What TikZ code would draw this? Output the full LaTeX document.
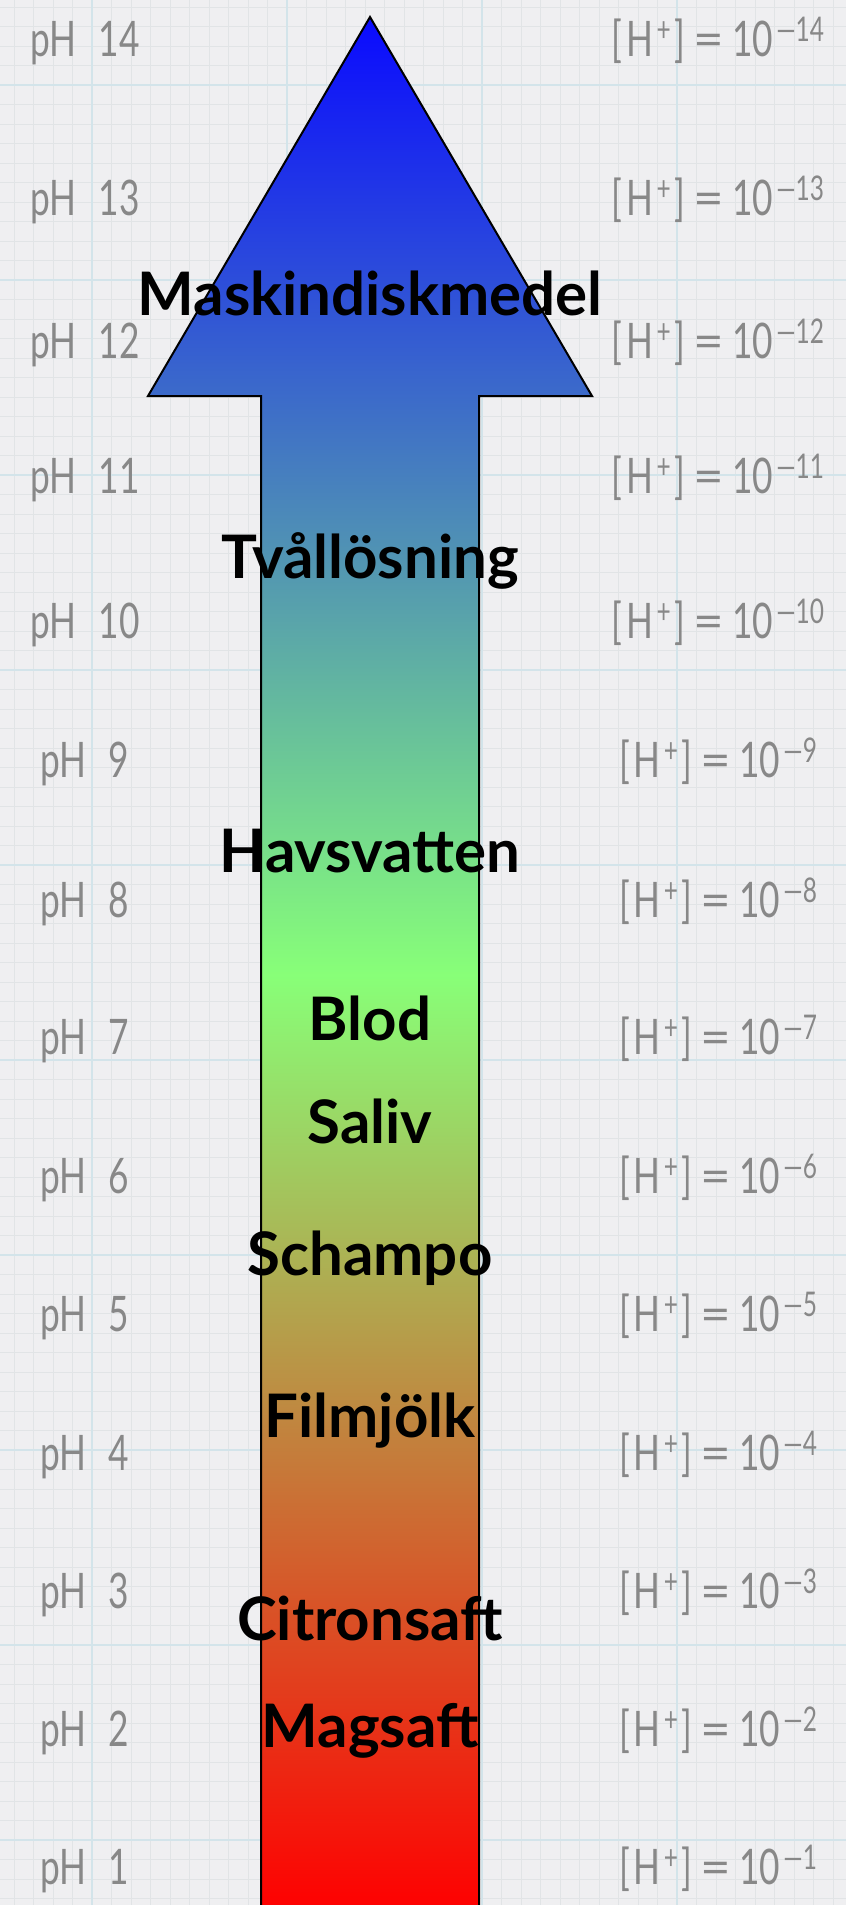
\documentclass[tikz,border=0pt]{standalone}
\usepackage{fontspec}
\usepackage{graphicx}
\setmainfont{Lato}
\newfontfamily\narrowfont[FakeStretch=0.72]{Lato}
\definecolor{paper}{HTML}{EFEFF1}
\definecolor{minorline}{HTML}{E1E4E6}
\definecolor{majorline}{HTML}{D3E4EA}
\definecolor{scalegray}{HTML}{888888}
\definecolor{basblue}{HTML}{0A0AFF}
\definecolor{neutralgreen}{HTML}{88FF78}
\definecolor{acidred}{HTML}{FF0000}
\newcommand{\supsmall}[1]{\raisebox{15pt}{\fontsize{34}{34}\selectfont #1}}
\newcommand{\hconc}[1]{[\hspace{4pt}H\hspace{3pt}\supsmall{+}\hspace{4pt}]\hspace{8pt}\scalebox{1.5}[1]{=}\hspace{8pt}10\hspace{3pt}\supsmall{—#1}}

\begin{document}
\begin{tikzpicture}[
  x=1pt,y=-1pt,
  phlabel/.style={anchor=base,inner sep=0pt,text=scalegray,font=\narrowfont\fontsize{49}{49}\selectfont},
  hlabel/.style={anchor=base,inner sep=0pt,text=scalegray,font=\narrowfont\fontsize{49}{49}\selectfont},
  substance/.style={anchor=base,inner sep=0pt,font=\bfseries\fontsize{60}{60}\selectfont}
]
\useasboundingbox (0,0) rectangle (846,1905);
% graph paper
\fill[paper] (0,0) rectangle (846,1905);
\foreach \x in {14,33.5,...,846} \draw[minorline,line width=0.8pt] (\x,0) -- (\x,1905);
\foreach \y in {7,26.5,...,1905} \draw[minorline,line width=0.8pt] (0,\y) -- (846,\y);
\foreach \x in {92,287,482,677} \draw[majorline,line width=1.6pt] (\x,0) -- (\x,1905);
\foreach \y in {85,280,...,1905} \draw[majorline,line width=1.6pt] (0,\y) -- (846,\y);

% the arrow
\begin{scope}
  \clip (370,17) -- (592,396) -- (479,396) -- (479,1912) -- (261,1912) -- (261,396) -- (148,396) -- cycle;
  \shade[top color=basblue,bottom color=neutralgreen] (140,17) rectangle (600,975);
  \shade[top color=neutralgreen,bottom color=acidred] (140,975) rectangle (600,1912);
\end{scope}
\draw[line width=2pt,line join=miter] (370,17) -- (592,396) -- (479,396) -- (479,1912) -- (261,1912) -- (261,396) -- (148,396) -- cycle;

% scale
\foreach \n/\yb in {14/57,13/215,12/358,11/493,10/638,9/777,8/917,7/1054,6/1193,5/1331,4/1470,3/1608,2/1746,1/1884} {
  \node[phlabel] (ph\n) at (85,\yb) {pH\hspace{0.45em}\n};
  \node[hlabel] (h\n) at (718,\yb) {\hconc{\n}};
}

% substances
\node[substance] (maskin) at (370,315) {Maskindiskmedel};
\node[substance] (tval) at (370,578) {Tvållösning};
\node[substance] (havs) at (370,872) {Havsvatten};
\node[substance] (blod) at (370,1040) {Blod};
\node[substance] (saliv) at (370,1143) {Saliv};
\node[substance] (schampo) at (370,1275) {Schampo};
\node[substance] (filmjolk) at (370,1437) {Filmjölk};
\node[substance] (citron) at (370,1640) {Citronsaft};
\node[substance] (magsaft) at (370,1747) {Magsaft};
\end{tikzpicture}
\end{document}
